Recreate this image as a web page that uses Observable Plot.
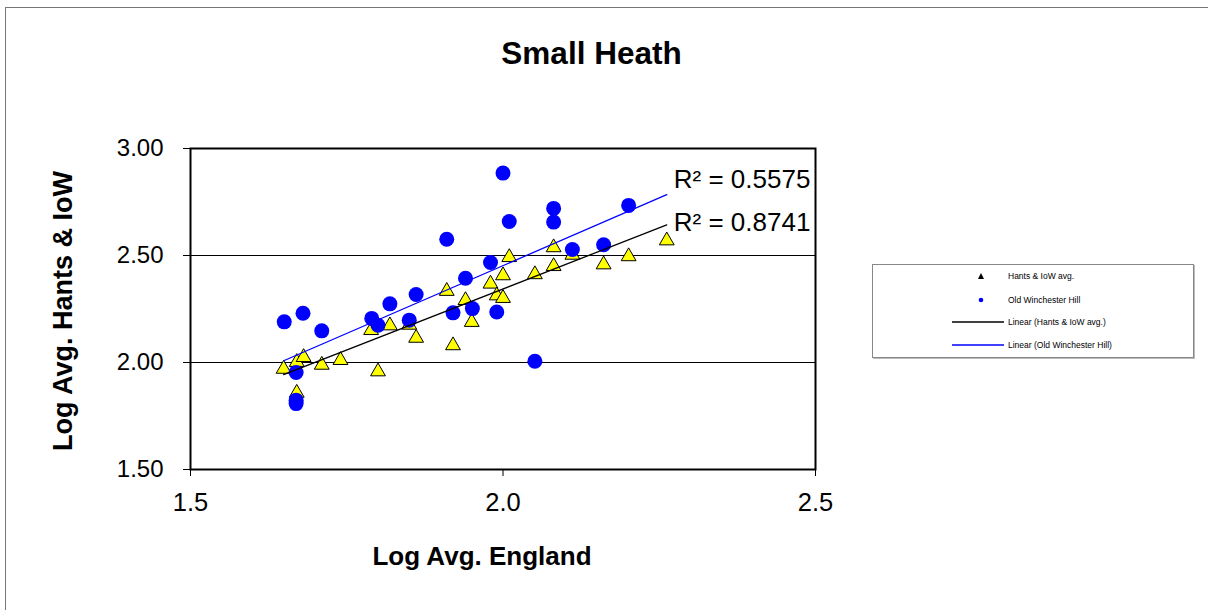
<!DOCTYPE html>
<html>
<head>
<meta charset="utf-8">
<script src="https://cdn.jsdelivr.net/npm/d3@7"></script>
<script src="https://cdn.jsdelivr.net/npm/@observablehq/plot@0.6"></script>
<style>
  html, body { margin: 0; padding: 0; background: #fff; }
  #wrap { position: relative; width: 1208px; height: 610px; overflow: hidden; font-family: "Liberation Sans", Arial, sans-serif; }
  #border { position: absolute; left: 5px; top: 7px; width: 1300px; height: 700px; border-left: 1.5px solid #777; border-top: 1.5px solid #777; }
  #chart { position: absolute; left: 0; top: 0; }
  .title { position: absolute; left: 0; width: 1183px; top: 35px; text-align: center; font-weight: bold; font-size: 31.5px; color: #000; }
  .xtitle { position: absolute; left: 482px; top: 556px; transform: translate(-50%, -50%); white-space: nowrap; font-weight: bold; font-size: 26px; }
  .ytitle { position: absolute; left: 63px; top: 311px; transform: translate(-50%, -50%) rotate(-90deg); white-space: nowrap; font-weight: bold; font-size: 27px; }
  #legend { position: absolute; left: 872px; top: 264px; width: 320px; height: 92px; border: 1px solid #888; box-shadow: 1px 1px 0 #bbb; background: #fff; }
  .li { position: absolute; left: 135px; font-size: 8.5px; color: #000; transform: translateY(-50%); white-space: nowrap; }
  .lm { position: absolute; }
</style>
</head>
<body>
<div id="wrap">
  <div id="border"></div>
  <div id="chart"></div>
  <div class="title" id="title"></div>
  <div class="ytitle" id="ytitle"></div>
  <div class="xtitle" id="xtitle"></div>
  <div id="legend"></div>
</div>
<script>
// ---- data ----
const chartTitle = "Small Heath";
const xTitle = "Log Avg. England";
const yTitle = "Log Avg. Hants & IoW";
const seriesNames = ["Hants & IoW avg.", "Old Winchester Hill", "Linear (Hants & IoW avg.)", "Linear (Old Winchester Hill)"];
const r2Labels = ["R² = 0.5575", "R² = 0.8741"]; // [Old Winchester Hill, Hants & IoW]

// Hants & IoW avg. (yellow triangles)
const hantsX = [1.649, 1.670, 1.681, 1.670, 1.710, 1.740, 1.800, 1.789, 1.819, 1.850, 1.861, 1.910, 1.920, 1.940, 1.950, 1.980, 1.990, 2.000, 2.000, 2.010, 2.051, 2.081, 2.081, 2.111, 2.161, 2.201, 2.262];
const hantsY = [1.979, 2.011, 2.034, 1.867, 1.998, 2.020, 1.967, 2.160, 2.182, 2.185, 2.124, 2.343, 2.089, 2.300, 2.198, 2.377, 2.322, 2.416, 2.310, 2.501, 2.421, 2.547, 2.459, 2.512, 2.467, 2.505, 2.579];

// Old Winchester Hill (blue circles)
const owhX = [1.650, 1.680, 1.710, 1.669, 1.669, 1.669, 1.790, 1.800, 1.819, 1.861, 1.850, 1.910, 1.940, 1.980, 1.920, 1.951, 1.990, 2.000, 2.010, 2.051, 2.081, 2.081, 2.111, 2.161, 2.201];
const owhY = [2.190, 2.230, 2.148, 1.953, 1.824, 1.808, 2.206, 2.174, 2.274, 2.318, 2.198, 2.576, 2.394, 2.467, 2.232, 2.252, 2.236, 2.885, 2.659, 2.006, 2.720, 2.656, 2.528, 2.550, 2.734];

const xTicks = [1.5, 2.0, 2.5];
const yTicks = [1.5, 2.0, 2.5, 3.0];
const yGrid = [2.0, 2.5];

// ---- build tables ----
const hants = hantsX.map((x, i) => ({x, y: hantsY[i]}));
const owh = owhX.map((x, i) => ({x, y: owhY[i]}));

function fit(xs, ys) {
  const mx = d3.mean(xs), my = d3.mean(ys);
  let sxy = 0, sxx = 0;
  xs.forEach((x, i) => { sxy += (x - mx) * (ys[i] - my); sxx += (x - mx) ** 2; });
  const b = sxy / sxx;
  return x => my + b * (x - mx);
}
const xMax = d3.max([...hantsX, ...owhX]);
const fH = fit(hantsX, hantsY), fO = fit(owhX, owhY);
const lineH = [d3.min(hantsX), xMax].map(x => ({x, y: fH(x)}));
const lineO = [d3.min(owhX), xMax].map(x => ({x, y: fO(x)}));

const chart = Plot.plot({
  width: 1208,
  height: 610,
  marginLeft: 190,
  marginRight: 393,
  marginTop: 148,
  marginBottom: 141,
  style: { fontFamily: "'Liberation Sans', Arial, sans-serif", background: "transparent", color: "#000", overflow: "visible" },
  x: { domain: [1.5, 2.5], label: null },
  y: { domain: [1.5, 3.0], label: null },
  marks: [
    Plot.ruleY(yGrid, { stroke: "#000", strokeWidth: 1 }),
    Plot.axisY(yTicks, { tickFormat: d3.format(".2f"), tickSize: 7, tickPadding: 20, fontSize: 24, stroke: "#000", strokeWidth: 1, label: null }),
    Plot.axisX(xTicks, { tickFormat: d3.format(".1f"), tickSize: 7, tickPadding: 16.5, fontSize: 25.5, stroke: "#000", strokeWidth: 1, label: null }),
    Plot.dot(hants, { x: "x", y: "y", symbol: "triangle", r: 5.5, dy: 2, fill: "#FFFF00", stroke: "#000", strokeWidth: 1 }),
    Plot.dot(owh, { x: "x", y: "y", symbol: "circle", r: 7.5, fill: "#0000FF", stroke: "none" }),
    Plot.line(lineH, { x: "x", y: "y", stroke: "#000", strokeWidth: 1.3 }),
    Plot.line(lineO, { x: "x", y: "y", stroke: "#0000FF", strokeWidth: 1.3 }),
    Plot.text([lineO[1]], { x: "x", y: "y", text: () => r2Labels[0], textAnchor: "start", lineAnchor: "bottom", dx: 7, dy: -7, fontSize: 26, fill: "#000" }),
    Plot.text([lineH[1]], { x: "x", y: "y", text: () => r2Labels[1], textAnchor: "start", lineAnchor: "bottom", dx: 7, dy: 6, fontSize: 26, fill: "#000" }),
    Plot.frame({ stroke: "#000", strokeWidth: 2 })
  ]
});
document.getElementById("chart").appendChild(chart);
document.getElementById("title").textContent = chartTitle;
document.getElementById("xtitle").textContent = xTitle;
document.getElementById("ytitle").textContent = yTitle;

// legend
const lg = document.getElementById("legend");
const entryY = [11, 35, 57, 80];
const glyphs = [
  '<svg width="8" height="8" style="left:104px;top:' + (entryY[0]-4) + 'px" class="lm"><path d="M4,1 L7,7 L1,7 Z" fill="#000"/></svg>',
  '<svg width="8" height="8" style="left:104px;top:' + (entryY[1]-4) + 'px" class="lm"><circle cx="4" cy="4" r="2.3" fill="#0000FF"/></svg>',
  '<svg width="54" height="4" style="left:79px;top:' + (entryY[2]-2) + 'px" class="lm"><line x1="0" y1="2" x2="52" y2="2" stroke="#000" stroke-width="1.3"/></svg>',
  '<svg width="54" height="4" style="left:79px;top:' + (entryY[3]-2) + 'px" class="lm"><line x1="0" y1="2" x2="52" y2="2" stroke="#0000FF" stroke-width="1.3"/></svg>'
];
seriesNames.forEach((name, i) => {
  lg.insertAdjacentHTML("beforeend", glyphs[i]);
  const d = document.createElement("div");
  d.className = "li";
  d.style.top = entryY[i] + "px";
  d.textContent = name;
  lg.appendChild(d);
});
</script>
</body>
</html>
